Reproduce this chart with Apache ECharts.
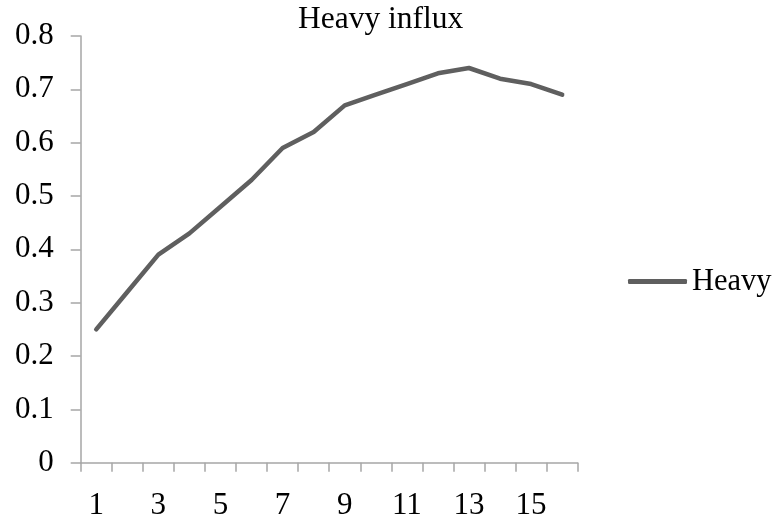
<!DOCTYPE html>
<html>
<head>
<meta charset="utf-8">
<script src="https://cdn.jsdelivr.net/npm/echarts@6/dist/echarts.min.js"></script>
<style>html,body{margin:0;padding:0;background:#fff;}#c{width:776px;height:525px;}</style>
</head>
<body>
<div id="c"></div>
<script>
const categories = ['1','2','3','4','5','6','7','8','9','10','11','12','13','14','15','16'];
const heavy = [0.25, 0.32, 0.39, 0.43, 0.48, 0.53, 0.59, 0.62, 0.67, 0.69, 0.71, 0.73, 0.74, 0.72, 0.71, 0.69];
const seriesName = 'Heavy';
const titleText = 'Heavy influx';

const font = 'Liberation Serif';
const chart = echarts.init(document.getElementById('c'), null, {renderer: 'canvas'});
chart.setOption({
  animation: false,
  backgroundColor: '#fff',
  title: {
    text: titleText,
    left: 298,
    top: 4,
    padding: 0,
    textStyle: {fontFamily: font, fontSize: 31.5, fontWeight: 'normal', color: '#000'}
  },
  legend: {
    data: [{name: seriesName, icon: 'roundRect'}],
    left: 628,
    top: 266,
    padding: 0,
    itemWidth: 59,
    itemHeight: 5,
    itemStyle: {color: '#5f5f5f'},
    textStyle: {fontFamily: font, fontSize: 30.5, color: '#000'}
  },
  grid: {left: 80.7, right: 198.3, top: 36, bottom: 62.3, containLabel: false},
  xAxis: {
    type: 'category',
    data: categories,
    boundaryGap: true,
    axisLine: {lineStyle: {color: '#a6a6a6', width: 1.5}},
    axisTick: {show: true, length: 9, interval: 0, alignWithLabel: false, lineStyle: {color: '#a6a6a6', width: 1.5}},
    axisLabel: {interval: 1, margin: 28, fontFamily: font, fontSize: 31, color: '#000'},
    splitLine: {show: false}
  },
  yAxis: {
    type: 'value',
    min: 0,
    max: 0.8,
    interval: 0.1,
    axisLine: {show: true, lineStyle: {color: '#a6a6a6', width: 1.5}},
    axisTick: {show: true, length: 10, lineStyle: {color: '#a6a6a6', width: 1.5}},
    axisLabel: {margin: 27, fontFamily: font, fontSize: 31, color: '#000', formatter: v => (Math.round(v*10)/10).toString()},
    splitLine: {show: false}
  },
  series: [{
    name: seriesName,
    type: 'line',
    data: heavy,
    symbol: 'none',
    lineStyle: {color: '#5f5f5f', width: 4.5, cap: 'round', join: 'round'},
    itemStyle: {color: '#5f5f5f'}
  }]
});
</script>
</body>
</html>
